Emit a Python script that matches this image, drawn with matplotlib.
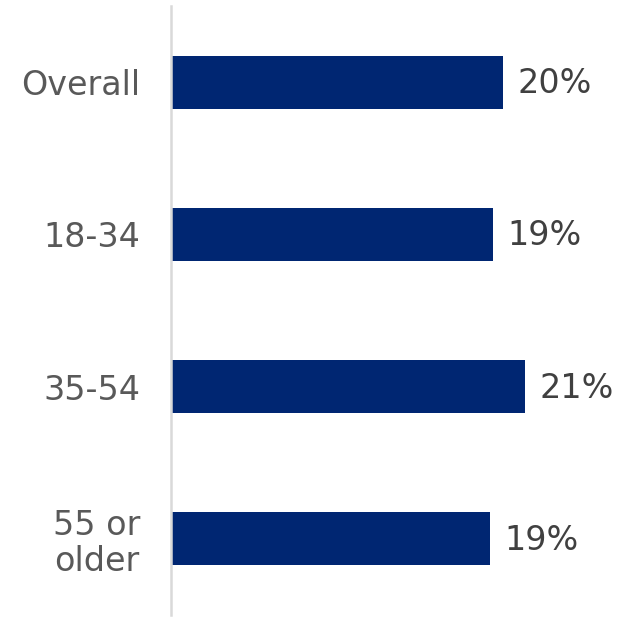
import matplotlib.pyplot as plt

categories = ["Overall", "18-34", "35-54", "55 or\nolder"]
values = [20.0, 19.4, 21.3, 19.2]
labels = ["20%", "19%", "21%", "19%"]

fig = plt.figure(figsize=(6.18, 6.19), dpi=100)
ax = fig.add_axes([0.2767, 0.0065, 0.7233, 0.9838])

ax.barh(range(len(categories)), values, height=0.347, color="#002672")
for i, (v, lab) in enumerate(zip(values, labels)):
    ax.text(v + 0.85, i + 0.01, lab, va="center", ha="left", fontsize=24, color="#404040")

ax.set_ylim(3.5, -0.5)
ax.set_xlim(0, 26.9)
ax.set_yticks(range(len(categories)))
ax.set_yticklabels(categories, fontsize=24, color="#595959", linespacing=1.1)
for t in ax.get_yticklabels():
    t.set_multialignment("center")
ax.tick_params(axis="y", length=0, pad=22)
ax.set_xticks([])
for s in ["top", "right", "bottom"]:
    ax.spines[s].set_visible(False)
ax.spines["left"].set_color("#d9d9d9")
ax.spines["left"].set_linewidth(1.8)

fig.savefig("out.png", dpi=100)
